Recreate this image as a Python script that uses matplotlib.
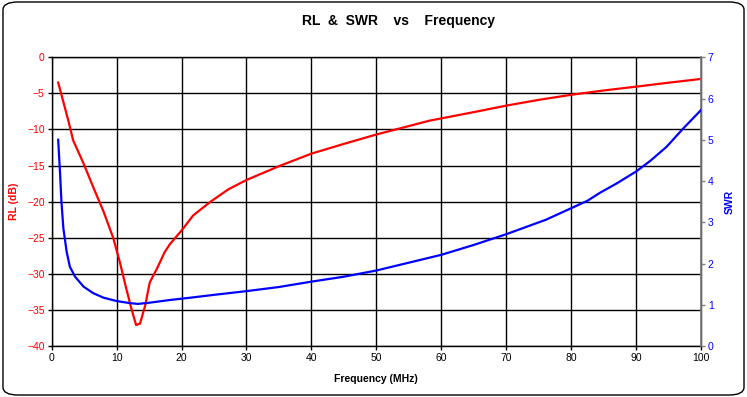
import matplotlib
matplotlib.use("Agg")
import matplotlib.pyplot as plt
from matplotlib.patches import FancyBboxPatch

plt.rcParams["font.family"] = ["Liberation Sans", "DejaVu Sans"]

# return loss (dB)
freq_rl = [1.0, 1.8, 2.6, 3.3, 4.9, 6.4, 8.0, 9.5, 10.5, 11.5, 12.3, 13.0, 13.6,
           14.4, 15.1, 16.2, 17.4, 18.2, 20.0, 21.8, 24.4, 27.2, 30, 35.1, 40,
           45, 50, 58.2, 65, 70, 75, 80, 85, 90, 95, 100]
rl_db = [-3.5, -6.2, -8.9, -11.5, -14.7, -18.0, -21.4, -25.1, -28.4, -32.1, -34.9,
         -37.1, -36.9, -34.4, -31.2, -29.3, -27.0, -25.9, -24.0, -21.9, -20.05,
         -18.3, -17.0, -15.05, -13.35, -12.0, -10.7, -8.78, -7.6, -6.7, -5.9, -5.2,
         -4.6, -4.07, -3.52, -3.0]

# SWR
freq_swr = [1.0, 1.3, 1.5, 1.8, 2.3, 2.8, 3.6, 4.9, 6.4, 8.0, 10, 12, 13.3, 15.1,
            18.2, 21.3, 25, 30, 35, 40, 45, 50, 55, 60, 65, 70, 76.1, 80, 82.5,
            84.5, 87, 90, 92.2, 94.7, 97.3, 100]
swr = [5.0, 4.15, 3.5, 2.85, 2.29, 1.92, 1.68, 1.44, 1.28, 1.17, 1.09, 1.04, 1.02,
       1.05, 1.115, 1.17, 1.24, 1.33, 1.43, 1.56, 1.68, 1.83, 2.02, 2.21, 2.45,
       2.71, 3.06, 3.34, 3.52, 3.72, 3.94, 4.23, 4.49, 4.83, 5.28, 5.72]

fig = plt.figure(figsize=(7.47, 3.97), dpi=100)
ax = fig.add_axes([0.0692, 0.1285, 0.9384 - 0.0692, 0.8557 - 0.1285])
ax2 = ax.twinx()

ax.plot(freq_rl, rl_db, color="#ff0000", lw=1.6, zorder=3)
ax2.plot(freq_swr, swr, color="#0000ff", lw=1.6, zorder=3)

ax.set_xlim(0, 100)
ax.set_ylim(-40, 0)
ax.set_xticks(range(0, 101, 10))
ax.set_yticks(range(-40, 1, 5))
ax2.set_ylim(0, 7)
ax2.set_yticks(range(0, 8))

ax.grid(True, color="black", lw=1.0)
ax.set_axisbelow(True)

for sp in ax.spines.values():
    sp.set_color("black")
    sp.set_linewidth(1.0)
ax2.spines["right"].set_color("#808080")
ax2.spines["right"].set_linewidth(1.2)
for s in ["left", "top", "bottom"]:
    ax2.spines[s].set_visible(False)

ax.tick_params(axis="x", direction="out", length=3, width=1, colors="black",
               labelsize=7.5, pad=2)
ax.tick_params(axis="y", direction="out", length=3, width=1, color="black",
               labelcolor="#ff0000", labelsize=7.5, pad=2)
ax2.tick_params(axis="y", direction="out", length=3, width=1, color="#808080",
                labelcolor="#0000ff", labelsize=7.5, pad=2)

ax.set_xlabel("Frequency (MHz)", fontsize=7.5, fontweight="bold", labelpad=8)
ax.set_ylabel("RL (dB)", fontsize=7.5, fontweight="bold", color="#ff0000",
              labelpad=6)
ax2.set_ylabel("SWR", fontsize=7.5, fontweight="bold", color="#0000ff",
               labelpad=8)

fig.text(0.534, 0.947, "RL  &  SWR    vs    Frequency", ha="center", va="center",
         fontsize=10, fontweight="bold")

border = FancyBboxPatch((0.004, 0.005), 0.992, 0.99,
                        boxstyle="round,pad=0,rounding_size=0.02",
                        transform=fig.transFigure, fill=False,
                        edgecolor="black", lw=1.0)
fig.patches.append(border)

fig.savefig("out.png", dpi=100)
